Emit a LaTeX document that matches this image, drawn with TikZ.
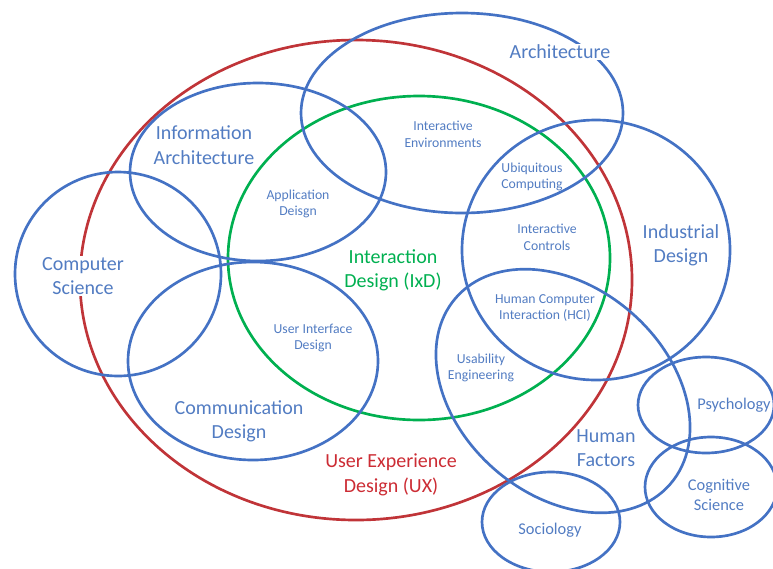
\documentclass[tikz,border=0pt]{standalone}
\usepackage{fontspec}
\setmainfont{Carlito}

\definecolor{setblue}{RGB}{68,114,196}
\definecolor{labelblue}{RGB}{82,124,194}
\definecolor{uxred}{RGB}{192,52,56}
\definecolor{uxtext}{RGB}{204,44,52}
\definecolor{ixdgreen}{RGB}{0,176,80}

\tikzset{
  field/.style={draw=setblue, line width=2pt},
  biglabel/.style={text=labelblue, align=center, inner sep=1pt, font=\fontsize{15}{18.3}\selectfont},
  midlabel/.style={text=labelblue, align=center, inner sep=1pt, font=\fontsize{12.3}{14.6}\selectfont},
  smalllabel/.style={text=labelblue, align=center, inner sep=1pt, font=\fontsize{10.3}{12.6}\selectfont},
}

\begin{document}
\begin{tikzpicture}[x=0.75pt, y=-0.75pt]
  \clip (0,0) rectangle (773,568);

  % outer fields
  \draw[draw=uxred, line width=2pt] (356,280) ellipse [x radius=276, y radius=240];
  \draw[draw=ixdgreen, line width=2pt] (419,258) ellipse [x radius=191, y radius=162];

  \draw[field] (462,113) ellipse [x radius=161, y radius=100];
  \draw[field] (258,172) ellipse [x radius=128, y radius=89];
  \draw[field] (118,274) ellipse [x radius=103, y radius=102];
  \draw[field] (253,361) ellipse [x radius=125, y radius=99];
  \draw[field] (596,250) ellipse [x radius=134, y radius=130];
  \draw[field, rotate around={-41:(563,391)}] (563,391) ellipse [x radius=142, y radius=104];

  % neighbouring sciences
  \draw[field] (706,405) ellipse [x radius=68, y radius=48];
  \draw[field] (711,487) ellipse [x radius=66, y radius=50];
  \draw[field] (551,522) ellipse [x radius=69, y radius=50];

  % labels
  \node[biglabel, fill=white] at (560,52) (arch) {Architecture};
  \node[biglabel] at (204,145) (infoarch) {Information\\Architecture};
  \node[biglabel, fill=white] at (83,276) (compsci) {Computer\\Science};
  \node[biglabel] at (681,245) (inddes) {Industrial\\Design};
  \node[biglabel] at (239,421) (commdes) {Communication\\Design};
  \node[biglabel] at (606,448) (humfac) {Human\\Factors};
  \node[biglabel, text=ixdgreen] at (393,270) (ixd) {Interaction\\Design (IxD)};
  \node[biglabel, text=uxtext] at (391,475) (ux) {User Experience\\Design (UX)};

  \node[smalllabel] at (298,204) (appdes) {Application\\Deisgn};
  \node[smalllabel] at (443,134) (intenv) {Interactive\\Environments};
  \node[smalllabel] at (532,177) (ubicomp) {Ubiquitous\\Computing};
  \node[smalllabel] at (547,237) (intctrl) {Interactive\\Controls};
  \node[smalllabel] at (545,308) (hci) {Human Computer\\Interaction (HCI)};
  \node[smalllabel] at (313,338) (uides) {User Interface\\Design};
  \node[smalllabel] at (481,368) (useng) {Usability\\Engineering};

  \node[midlabel] at (734,405) (psych) {Psychology};
  \node[midlabel] at (719,495) (cogsci) {Cognitive\\Science};
  \node[midlabel] at (550,530) (socio) {Sociology};
\end{tikzpicture}
\end{document}
